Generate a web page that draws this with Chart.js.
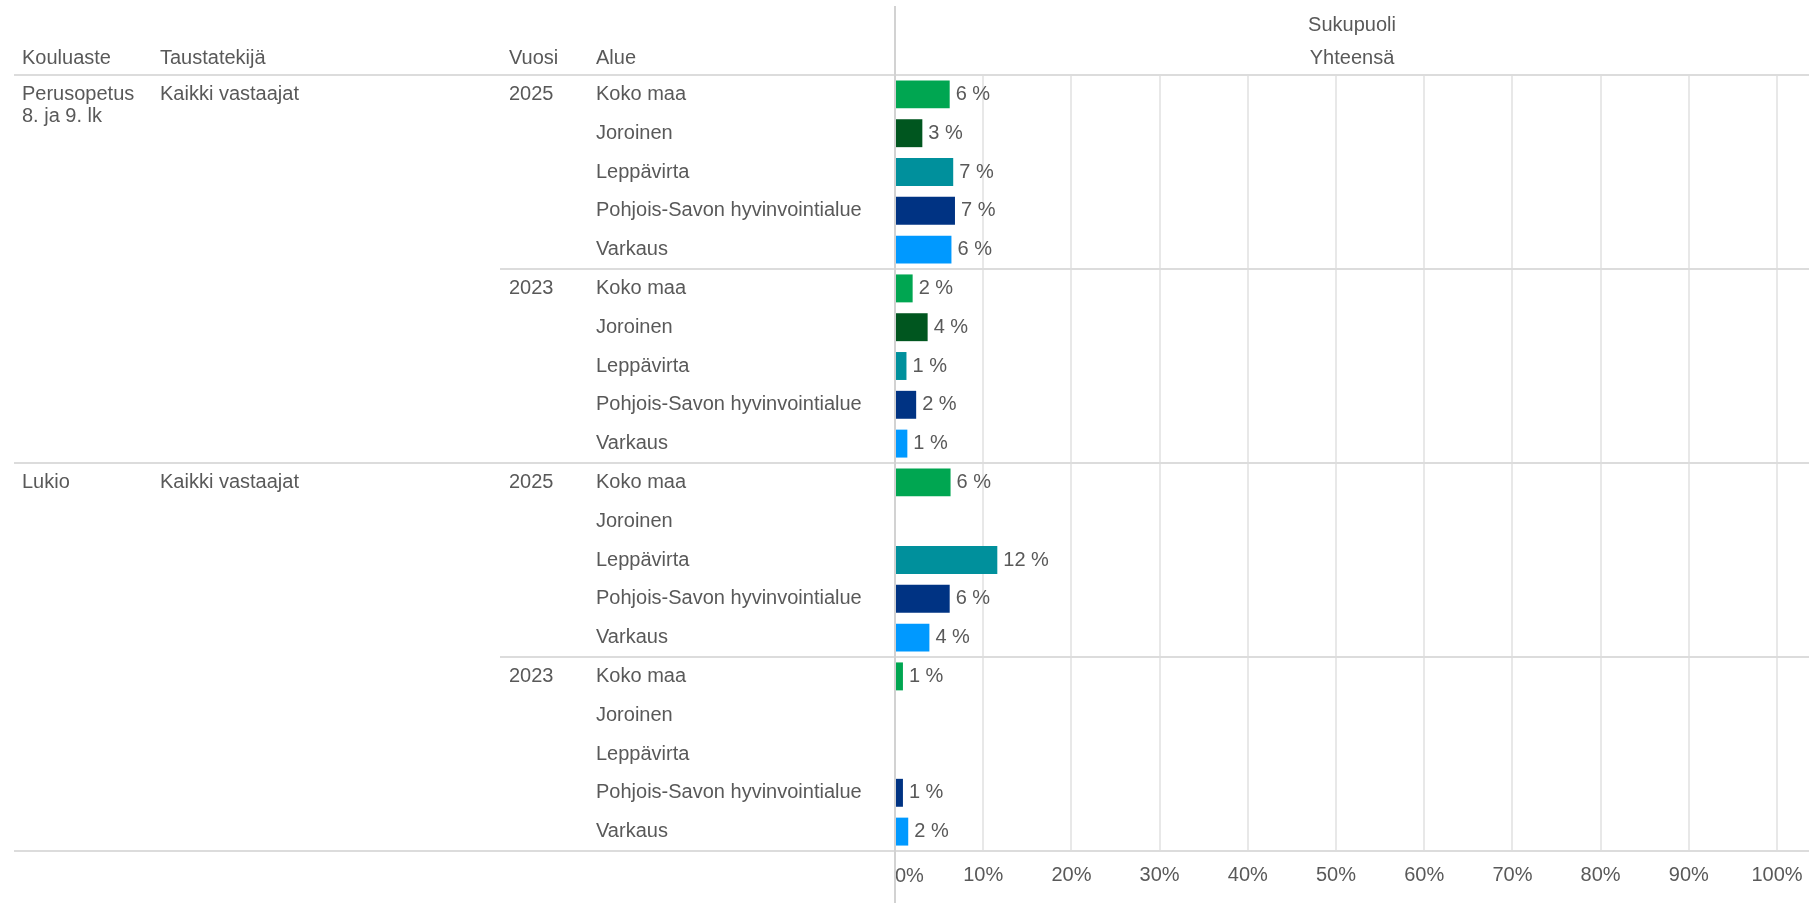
<!DOCTYPE html>
<html lang="fi">
<head>
<meta charset="utf-8">
<title>Kouluterveyskysely</title>
<script src="https://cdn.jsdelivr.net/npm/chart.js@4.4.1/dist/chart.umd.min.js"></script>
<style>
    html, body { margin: 0; padding: 0; background: #fff; }
    #chart { display: block; }
</style>
</head>
<body>
<canvas id="chart" width="1809" height="903"></canvas>
<script>
// values, percent
const levels = [['Perusopetus', '8. ja 9. lk'], ['Lukio']];
const background = 'Kaikki vastaajat';
const years = ['2025', '2023'];
const areas = ['Koko maa', 'Joroinen', 'Leppävirta', 'Pohjois-Savon hyvinvointialue', 'Varkaus'];
const areaColors = ['#00a651', '#00561f', '#00909c', '#003383', '#0099ff'];

const perus2025 = [6.2, 3.1, 6.6, 6.8, 6.4];
const perus2023 = [2.0, 3.7, 1.3, 2.4, 1.4];
const lukio2025 = [6.3, null, 11.6, 6.2, 3.9];
const lukio2023 = [0.9, null, null, 0.9, 1.5];

const xTicks = [0, 10, 20, 30, 40, 50, 60, 70, 80, 90, 100];

const headers = { level: 'Kouluaste', background: 'Taustatekijä', year: 'Vuosi', area: 'Alue' };
const topTitle = 'Sukupuoli';
const subTitle = 'Yhteensä';

const FONT = '"Liberation Sans", Arial, sans-serif';
const TEXT = '#595959';
const LINE = '#dcdcdc';

// one row per bar
const values = [...perus2025, ...perus2023, ...lukio2025, ...lukio2023];
const rowLabels = values.map((v, i) => 'r' + i);
const colors = values.map((v, i) => areaColors[i % areas.length]);

const tablePlugin = {
    id: 'table',
    beforeDatasetsDraw(chart) {
        const { ctx, chartArea } = chart;
        const yScale = chart.scales.y;
        const xScale = chart.scales.x;
        const rowH = (chartArea.bottom - chartArea.top) / values.length;
        const rowTop = i => chartArea.top + i * rowH;

        ctx.save();
        ctx.fillStyle = TEXT;
        ctx.font = '20px ' + FONT;
        ctx.textBaseline = 'middle';

        // headers
        const headY = 58;
        ctx.textAlign = 'left';
        ctx.fillText(headers.level, 22, headY);
        ctx.fillText(headers.background, 160, headY);
        ctx.fillText(headers.year, 509, headY);
        ctx.fillText(headers.area, 596, headY);
        ctx.textAlign = 'center';
        const mid = (chartArea.left + chart.width) / 2;
        ctx.fillText(topTitle, mid, 25);
        ctx.fillText(subTitle, mid, headY);

        // rows
        ctx.textAlign = 'left';
        values.forEach((v, i) => {
            const y = yScale.getPixelForValue(i);
            ctx.fillText(areas[i % areas.length], 596, y);
            if (i % areas.length === 0) {
                ctx.fillText(years[Math.floor(i / areas.length) % years.length], 509, y);
            }
            if (i % (areas.length * years.length) === 0) {
                const lvl = levels[Math.floor(i / (areas.length * years.length))];
                lvl.forEach((t, k) => ctx.fillText(t, 22, y + k * 22));
                ctx.fillText(background, 160, y);
            }
        });

        // first axis label sits left-aligned on the zero line
        ctx.fillText(xTicks[0] + '%', xScale.getPixelForValue(xTicks[0]), 876);

        // separator lines
        ctx.strokeStyle = LINE;
        ctx.lineWidth = 2;
        const hline = (x0, y) => {
            ctx.beginPath();
            ctx.moveTo(x0, y);
            ctx.lineTo(chart.width, y);
            ctx.stroke();
        };
        hline(14, chartArea.top);
        for (let i = areas.length; i <= values.length; i += areas.length) {
            const x0 = i % (areas.length * years.length) === 0 ? 14 : 500;
            hline(x0, rowTop(i));
        }

        // zero line
        ctx.strokeStyle = '#d2d2d2';
        ctx.beginPath();
        ctx.moveTo(chartArea.left, 6);
        ctx.lineTo(chartArea.left, chart.height);
        ctx.stroke();
        ctx.restore();
    },
    afterDatasetsDraw(chart) {
        const { ctx } = chart;
        const meta = chart.getDatasetMeta(0);
        ctx.save();
        ctx.fillStyle = TEXT;
        ctx.font = '20px ' + FONT;
        ctx.textBaseline = 'middle';
        ctx.textAlign = 'left';
        meta.data.forEach((bar, i) => {
            const v = values[i];
            if (v === null) return;
            ctx.fillText(Math.round(v) + ' %', bar.x + 6, bar.y);
        });
        ctx.restore();
    }
};

new Chart(document.getElementById('chart'), {
    type: 'bar',
    data: {
        labels: rowLabels,
        datasets: [{
            data: values,
            backgroundColor: colors,
            borderWidth: 0,
            categoryPercentage: 1,
            barPercentage: 0.72
        }]
    },
    options: {
        indexAxis: 'y',
        responsive: false,
        animation: false,
        layout: { padding: { top: 75, left: 895, right: 32, bottom: 0 } },
        plugins: {
            legend: { display: false },
            tooltip: { enabled: false }
        },
        scales: {
            y: { display: false },
            x: {
                min: 0,
                max: 100,
                afterBuildTicks: s => { s.ticks = xTicks.map(v => ({ value: v })); },
                afterFit: s => {
                    s.height = 52;
                    s.paddingLeft = 0;
                    s.paddingRight = 0;
                },
                ticks: {
                    // 0% is drawn by the table plugin
                    callback: v => (v === xTicks[0] ? '' : v + '%'),
                    color: TEXT,
                    font: { family: FONT, size: 20 },
                    padding: 12,
                    maxRotation: 0
                },
                grid: { color: '#e8e8e8', lineWidth: 2, drawTicks: false },
                border: { display: false }
            }
        }
    },
    plugins: [tablePlugin]
});
</script>
</body>
</html>
